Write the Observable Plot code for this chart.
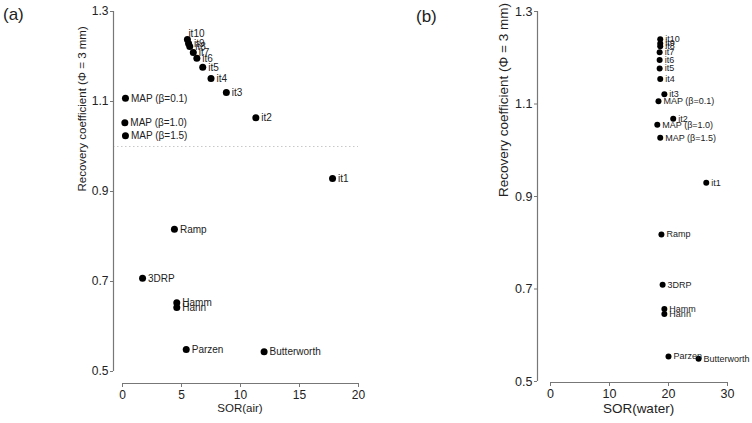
<!DOCTYPE html>
<html>
<head>
<meta charset="utf-8">
<script src="https://cdn.jsdelivr.net/npm/d3@7"></script>
<script src="https://cdn.jsdelivr.net/npm/@observablehq/plot@0.6"></script>
<style>
  html, body { margin: 0; padding: 0; background: #fff; }
  #wrap { position: relative; width: 752px; height: 423px; display: flex; font-family: "Liberation Sans", Arial, sans-serif; }
  .panel { position: relative; width: 376px; height: 423px; }
  .tag { position: absolute; font-size: 17px; color: #222; z-index: 2; }
</style>
</head>
<body>
<div id="wrap">
  <div class="panel" id="pa"><span class="tag" style="left:3px;top:5px;">(a)</span></div>
  <div class="panel" id="pb"><span class="tag" style="left:40px;top:7px;">(b)</span></div>
</div>
<script>
const labels = ["it1","it2","it3","it4","it5","it6","it7","it8","it9","it10",
  "MAP (β=0.1)","MAP (β=1.0)","MAP (β=1.5)","Ramp","3DRP","Hamm","Hann","Parzen","Butterworth"];
const sorAir  = [17.8, 11.3, 8.8, 7.5, 6.8, 6.3, 6.0, 5.7, 5.6, 5.5, 0.25, 0.2, 0.25, 4.4, 1.7, 4.6, 4.6, 5.4, 12.0];
const rcAir   = [0.929, 1.064, 1.120, 1.151, 1.176, 1.196, 1.209, 1.222, 1.229, 1.238, 1.107, 1.053, 1.024, 0.816, 0.707, 0.653, 0.642, 0.549, 0.544];
const sorWater = [26.4, 20.8, 19.3, 18.6, 18.5, 18.5, 18.5, 18.6, 18.6, 18.6, 18.3, 18.1, 18.6, 18.8, 19.0, 19.3, 19.3, 20.0, 25.1];
const rcWater  = [0.930, 1.068, 1.121, 1.154, 1.177, 1.195, 1.212, 1.225, 1.231, 1.240, 1.106, 1.055, 1.027, 0.818, 0.709, 0.657, 0.646, 0.554, 0.549];
const yTicks = [0.5, 0.7, 0.9, 1.1, 1.3];
const xTicksAir = [0, 5, 10, 15, 20];
const xTicksWater = [0, 10, 20, 30];
const yTitle = "Recovery coefficient (Φ = 3 mm)";

const rowsAir = labels.map((l, i) => ({label: l, x: sorAir[i], y: rcAir[i]}));
const rowsWater = labels.map((l, i) => ({label: l, x: sorWater[i], y: rcWater[i]}));

const axisColor = "#777";
const textColor = "#222";

function panel(rows, o) {
  return Plot.plot({
    width: 376, height: 423,
    marginLeft: o.ml, marginRight: o.mr, marginTop: 11, marginBottom: o.mb,
    style: {fontFamily: "Liberation Sans, Arial, sans-serif", color: textColor, background: "transparent", overflow: "visible"},
    x: {domain: o.xDomain, insetLeft: o.insetLeft, axis: null},
    y: {domain: [0.5, 1.3], insetBottom: o.insetBottom, axis: null},
    marks: [
      o.refLine ? Plot.ruleY([1.0], {stroke: "#c8c8c8", strokeDasharray: "1.5,2.5", strokeWidth: 1}) : null,
      Plot.ruleX([o.xDomain[0]], {y1: 0.5, y2: 1.3, dx: -o.insetLeft, stroke: axisColor, strokeWidth: 1.2}),
      Plot.ruleY([0.5], {x1: o.xDomain[0], x2: o.xDomain[1], dy: o.insetBottom, stroke: axisColor, strokeWidth: 1.2}),
      Plot.axisY(yTicks, {anchor: "left", label: null, tickSize: 3, tickPadding: 2, fontSize: o.tickFont, stroke: axisColor, tickFormat: d => d.toFixed(1), fill: textColor}),
      Plot.axisX(o.xTicks, {anchor: "bottom", label: null, tickSize: 4, tickPadding: 3, fontSize: o.tickFont, stroke: axisColor, tickFormat: d => String(d), fill: textColor}),
      Plot.text([o.xTitle], {frameAnchor: "bottom", dx: o.xTitleDx, dy: o.xTitleDy, fontSize: o.titleFont, fill: textColor}),
      Plot.text([yTitle], {frameAnchor: "left", rotate: -90, dx: o.yTitleDx, dy: o.yTitleDy, fontSize: o.titleFont, fill: textColor}),
      Plot.dot(rows, {x: "x", y: "y", r: o.r, fill: "#000", stroke: "none"}),
      Plot.text(rows.filter(d => d.label !== "it10"), {x: "x", y: "y", text: "label", textAnchor: "start", dx: o.r + 2, fontSize: o.labelFont, fill: textColor}),
      Plot.text(rows.filter(d => d.label === "it10"), {x: "x", y: "y", text: "label", textAnchor: "start", dx: o.it10dx, dy: o.it10dy, fontSize: o.labelFont, fill: textColor})
    ]
  });
}

document.getElementById("pa").appendChild(panel(rowsAir, {
  ml: 113, mr: 18, mb: 40, insetLeft: 9, insetBottom: 12,
  xDomain: [0, 20], xTicks: xTicksAir, xTitle: "SOR(air)",
  tickFont: 12, titleFont: 11.5, labelFont: 10, r: 3.5,
  xTitleDx: 4, xTitleDy: 28, yTitleDx: -31, yTitleDy: -6,
  it10dx: 1, it10dy: -6, refLine: true
}));
document.getElementById("pb").appendChild(panel(rowsWater, {
  ml: 161, mr: 25, mb: 41, insetLeft: 13, insetBottom: 1,
  xDomain: [0, 30], xTicks: xTicksWater, xTitle: "SOR(water)",
  tickFont: 12.5, titleFont: 13.5, labelFont: 9, r: 3,
  xTitleDx: 6, xTitleDy: 30, yTitleDx: -34, yTitleDy: 0,
  it10dx: 5, it10dy: 0, refLine: false
}));
</script>
</body>
</html>
